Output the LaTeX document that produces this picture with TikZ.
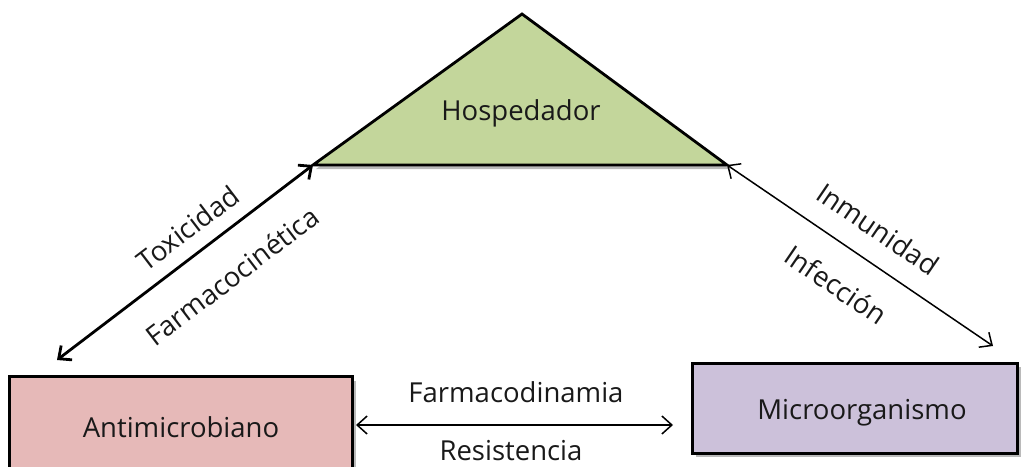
\documentclass[tikz,border=0pt]{standalone}
\usepackage{fontspec}
\setmainfont{Open Sans}
\usetikzlibrary{arrows.meta,shadows}
\definecolor{hostgreen}{HTML}{C3D69B}
\definecolor{antipink}{HTML}{E6B9B8}
\definecolor{micropurple}{HTML}{CCC1DA}
\tikzset{
  lbl/.style={font=\fontsize{27.5}{32}\selectfont, text=black!90, inner sep=0pt},
  boxshape/.style={draw=black, line width=3pt, inner sep=0pt,
    drop shadow={shadow xshift=3pt, shadow yshift=-4pt, opacity=0.45, fill=black!60}},
  thinarrow/.style={line width=1.5pt, {Straight Barb[length=10pt,width=18pt]}-{Straight Barb[length=10pt,width=18pt]}},
  thickarrow/.style={line width=2.8pt, {Straight Barb[length=10pt,width=18pt]}-{Straight Barb[length=10pt,width=18pt]}},
}
\begin{document}
\begin{tikzpicture}[x=1pt,y=-1pt]
\useasboundingbox (0,0) rectangle (1023,466);
% triangle
\coordinate (apex) at (522,14);
\coordinate (tl) at (313,165);
\coordinate (tr) at (727,165);
\draw[line width=2.8pt, line join=miter, fill=hostgreen,
  drop shadow={shadow xshift=3pt, shadow yshift=-4pt, opacity=0.45, fill=black!60}]
  (tl) -- (apex) -- (tr) -- cycle;
\node[lbl] (host) at (521,113) {Hospedador};
% boxes
\node[boxshape, fill=antipink, minimum width=343pt, minimum height=97pt] (A) at (181,425) {};
\node[lbl] (Atext) at (181,427) {Antimicrobiano};
\node[boxshape, fill=micropurple, minimum width=325pt, minimum height=90pt] (M) at (855,408) {};
\node[lbl] (Mtext) at (862,413) {Microorganismo};
% free ends
\coordinate (la) at (57,360);
\coordinate (ra) at (993,346);
% connectors
\draw[thickarrow] (la) -- (tl);
\draw[thinarrow] (tr) -- (ra);
\draw[thinarrow, shorten <=2pt, shorten >=18pt] (A.east) -- (A.east -| M.west);
% labels
\node[lbl, rotate=37.3] (tox) at (188,228) {Toxicidad};
\node[lbl, rotate=37.3] (farmc) at (232,276) {Farmacocinética};
\node[lbl, rotate=-34.3] (inm) at (878,229) {Inmunidad};
\node[lbl, rotate=-34.3] (inf) at (836,285) {Infección};
\node[lbl] (fd) at (516,392) {Farmacodinamia};
\node[lbl] (res) at (511,451) {Resistencia};
\end{tikzpicture}
\end{document}
